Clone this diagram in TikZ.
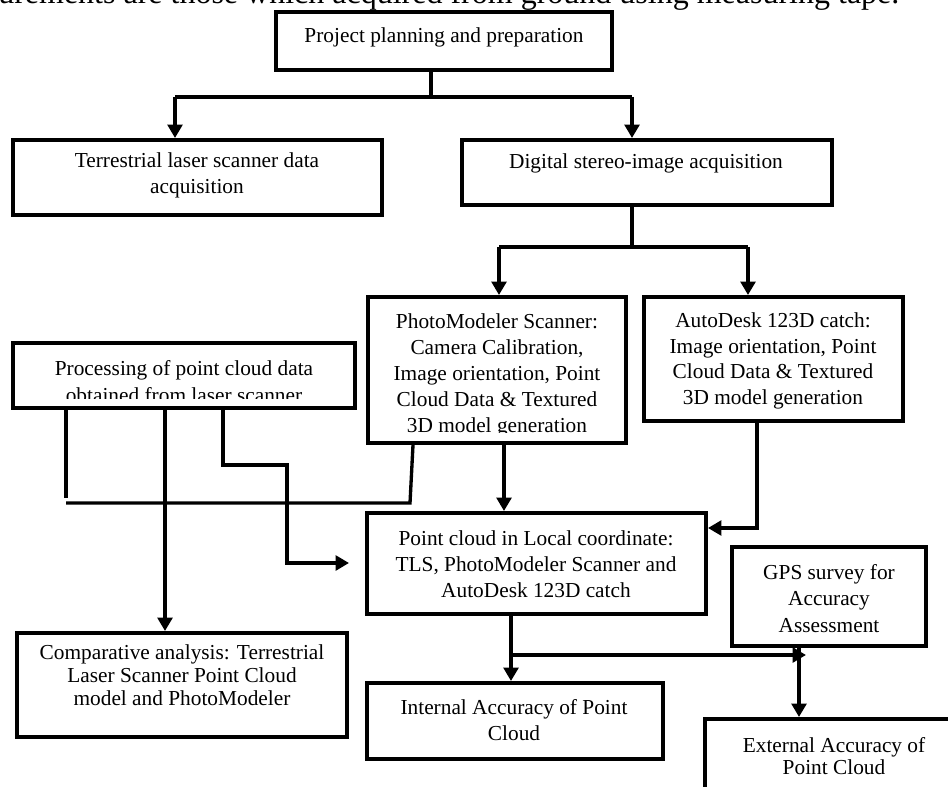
\documentclass[tikz,border=0pt]{standalone}
\usepackage{fontspec}
\setmainfont{Liberation Serif}
\usetikzlibrary{arrows.meta}
\begin{document}
\begin{tikzpicture}[x=0.75pt,y=-0.75pt,
  bx/.style={draw, line width=3pt, inner sep=0pt, rectangle},
  tx/.style={align=center, inner sep=0pt, font=\fontsize{16}{19.5}\selectfont},
  ln/.style={line width=2.5pt},
  ar/.style={line width=2.5pt, -{Triangle[length=10pt,width=11pt]}}]
\useasboundingbox (0,0) rectangle (948,787);
\clip (0,0) rectangle (948,787);
% header fragment
\node[anchor=base west, inner sep=0pt, font=\fontsize{24}{28}\selectfont] (hdr) at (-2,4) {urements are those which acquired from ground using measuring tape.};
% boxes
\node[bx, minimum width=252pt, minimum height=43.5pt] (A) at (444,41) {};
\node[bx, minimum width=276.75pt, minimum height=56.25pt] (B) at (197.5,177.5) {};
\node[bx, minimum width=277.5pt, minimum height=48.75pt] (C) at (647,172.5) {};
\node[bx, minimum width=193.5pt, minimum height=109.5pt] (D) at (497,370) {};
\node[bx, minimum width=194.25pt, minimum height=93pt] (E) at (773.5,359) {};
\node[bx, minimum width=256.5pt, minimum height=48.75pt] (F) at (184,375.5) {};
\node[bx, minimum width=254.25pt, minimum height=75.75pt] (G) at (536.5,563.5) {};
\node[bx, minimum width=247.5pt, minimum height=78pt] (H) at (182,685) {};
\node[bx, minimum width=222pt, minimum height=57pt] (I) at (515,721) {};
\node[bx, minimum width=145.5pt, minimum height=74.25pt] (J) at (829,596.5) {};
\node[bx, minimum width=195pt, minimum height=60.75pt] (K) at (835,759.5) {};
% texts
\node[tx] (At) at (444,37) {Project planning and preparation};
\node[tx, font=\fontsize{16}{19}\selectfont] (Bt) at (197,175.5) {Terrestrial laser scanner data\\acquisition};
\node[tx] (Ct) at (646,163) {Digital stereo-image acquisition};
\begin{scope}
\clip (370,299) rectangle (624,432);
\node[tx] (Dt) at (497,375) {PhotoModeler Scanner:\\Camera Calibration,\\Image orientation, Point\\Cloud Data \& Textured\\3D model generation};
\end{scope}
\node[tx, font=\fontsize{16}{19.1}\selectfont] (Et) at (773,361) {AutoDesk 123D catch:\\Image orientation, Point\\Cloud Data \& Textured\\3D model generation};
\begin{scope}
\clip (15,345) rectangle (353,398);
\node[tx, font=\fontsize{16}{20}\selectfont] (Ft) at (184,381.5) {Processing of point cloud data\\obtained from laser scanner};
\end{scope}
\node[tx] (Gt) at (536,564) {Point cloud in Local coordinate:\\TLS, PhotoModeler Scanner and\\AutoDesk 123D catch};
\node[tx, font=\fontsize{16}{17.25}\selectfont] (Ht) at (182,675) {Comparative analysis: Terrestrial\\Laser Scanner Point Cloud\\model and PhotoModeler};
\node[tx] (It) at (514,720) {Internal Accuracy of Point\\Cloud};
\node[tx, font=\fontsize{16}{19.9}\selectfont] (Jt) at (829,598.5) {GPS survey for\\Accuracy\\Assessment};
\node[tx, font=\fontsize{16}{16.5}\selectfont] (Kt) at (834,756) {External Accuracy of\\Point Cloud};
% connectors
\coordinate (a1) at (431,97);
\coordinate (b1) at (175,97);
\coordinate (c1) at (632,97);
\draw[ln] (A.south -| a1) -- (a1);
\draw[ln] (b1) -- (c1);
\draw[ar] (b1) -- (b1 |- B.north);
\draw[ar] (c1) -- (c1 |- C.north);
\coordinate (c2) at (632,247);
\coordinate (d1) at (499,247);
\coordinate (e1) at (748,247);
\draw[ln] (c2 |- C.south) -- (c2);
\draw[ln] (d1) -- (e1);
\draw[ar] (d1) -- (d1 |- D.north);
\draw[ar] (e1) -- (e1 |- E.north);
\coordinate (f1) at (66,498);
\coordinate (f2) at (165,0);
\coordinate (f3a) at (223,465);
\coordinate (f3b) at (287,563);
\draw[ln] (f1 |- F.south) -- (f1);
\draw[ar] (f2 |- F.south) -- (f2 |- H.north);
\draw[ar, shorten >=12pt] (f3a |- F.south) -- (f3a) -| (f3b) -- (f3b -| G.west);
\coordinate (d2) at (410,503);
\coordinate (d3) at (413,0);
\coordinate (d4) at (504,0);
\draw[ln] (d3 |- D.south) -- (d2) -- (d2 -| f1);
\draw[ar] (d4 |- D.south) -- (d4 |- G.north);
\coordinate (e2) at (757,528);
\draw[ar] (e2 |- E.south) -- (e2) -- (e2 -| G.east);
\coordinate (g2) at (511,655);
\coordinate (g3) at (806,655);
\draw[ln] (g2 |- G.south) -- (g2);
\draw[ar] (g2) -- (g2 |- I.north);
\draw[ar] (g2) -- (g3);
\coordinate (j1) at (799,0);
\draw[ar] (j1 |- J.south) -- (j1 |- K.north);
\end{tikzpicture}
\end{document}
